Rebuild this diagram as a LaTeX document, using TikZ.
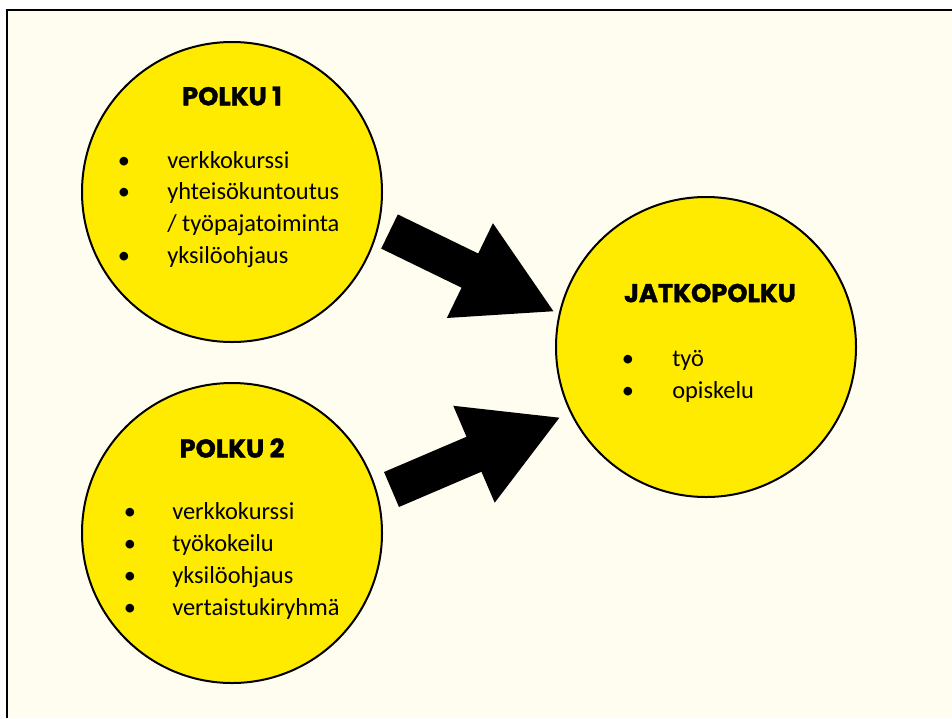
\documentclass[tikz,border=0pt]{standalone}
\usepackage{fontspec}
\setmainfont{Carlito}
\newfontfamily\headfont{Poppins}[BoldFeatures={FakeBold=1.5}]
\usetikzlibrary{arrows.meta}
\definecolor{paper}{HTML}{FFFDEF}
\definecolor{sunny}{HTML}{FFEB00}
\tikzset{
  pathcircle/.style={circle, draw=black, line width=1.5pt, fill=sunny,
    minimum size=225pt, inner sep=0pt},
  pathtitle/.style={font=\headfont\bfseries\fontsize{19.3}{22}\selectfont},
  pathitem/.style={anchor=base west, inner sep=0pt, font=\fontsize{18.3}{22}\selectfont},
  pathdot/.style={anchor=base, inner sep=0pt, font=\fontsize{18.3}{22}\selectfont},
  bigarrow/.style={line width=28.5pt, -{Triangle[length=71pt,width=73.5pt]}}
}
\begin{document}
\begin{tikzpicture}[x=0.75pt,y=-0.75pt]
      \useasboundingbox (0,0) rectangle (952,718);
      \fill[white] (0,0) rectangle (952,718);
      \fill[paper] (7,10) rectangle (952,718);
      \draw[line width=2pt] (952,10) -- (7,10) -- (7,718);
      % circles
      \node[pathcircle] (p1) at (232,192) {};
      \node[pathcircle] (p2) at (232,533) {};
      \node[pathcircle] (jp) at (706,347) {};
      % titles
      \node[pathtitle] (p1t) at (232,96) {POLKU 1};
      \node[pathtitle] (p2t) at (232,448) {POLKU 2};
      \node[pathtitle] (jpt) at (710,293) {JATKOPOLKU};
      % items
      \foreach \y/\txt in {168/verkkokurssi, 199/yhteisökuntoutus, 263/yksilöohjaus}
        \node[pathdot] at (124,\y) {•};
      \foreach \y/\txt in {168/verkkokurssi, 199/yhteisökuntoutus, 231/{/ työpajatoiminta}, 263/yksilöohjaus}
        \node[pathitem] at (167,\y) {\txt};
      \foreach \y/\txt in {519/verkkokurssi, 551/työkokeilu, 583/yksilöohjaus, 615/vertaistukiryhmä}
        {\node[pathdot] at (130,\y) {•};
         \node[pathitem] at (172,\y) {\txt};}
      \foreach \y/\txt in {366/työ, 398/opiskelu}
        {\node[pathdot] at (628,\y) {•};
         \node[pathitem] at (672,\y) {\txt};}
      % arrows
      \coordinate (a1s) at (389.5,231.5);
      \coordinate (a1e) at (555,312);
      \coordinate (a2s) at (391.5,489.5);
      \coordinate (a2e) at (561,417);
      \draw[bigarrow] (a1s) -- (a1e);
      \draw[bigarrow] (a2s) -- (a2e);
    \end{tikzpicture}
\end{document}
